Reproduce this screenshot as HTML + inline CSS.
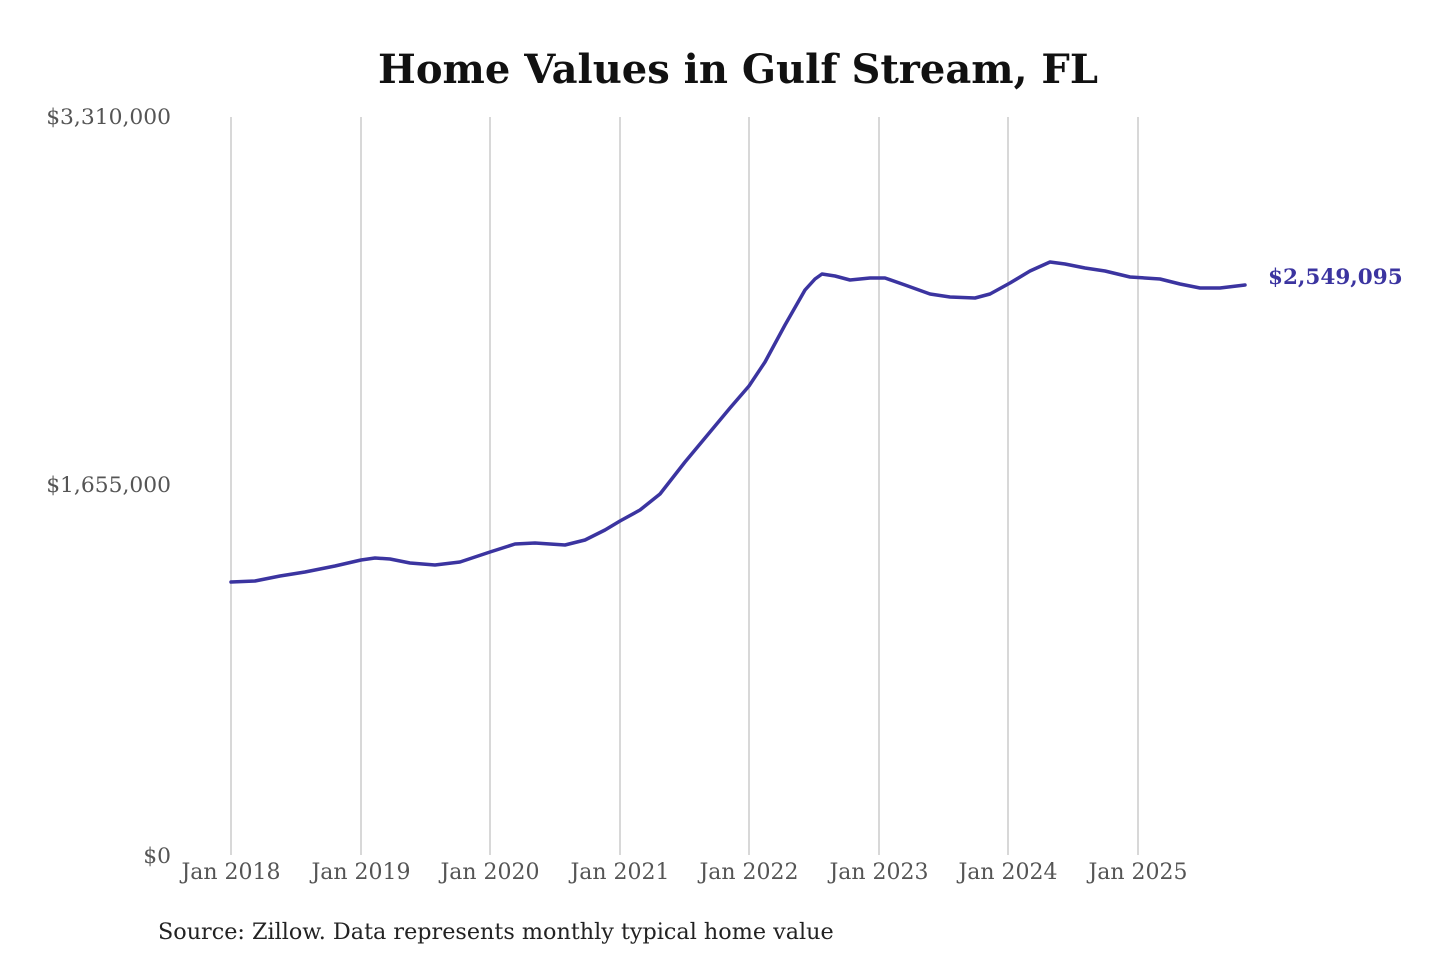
<!DOCTYPE html>
<html><head><meta charset="utf-8"><style>
html,body{margin:0;padding:0;background:#fff;}
svg{display:block}
</style></head><body>
<svg width="1440" height="960" xmlns="http://www.w3.org/2000/svg" font-family="'DejaVu Serif','Liberation Serif',serif">
<rect width="1440" height="960" fill="#fff"/>
<text x="738" y="83" text-anchor="middle" font-size="40" font-weight="bold" fill="#111">Home Values in Gulf Stream, FL</text>
<g stroke="#c4c4c4" stroke-width="1.3">
<line x1="231" y1="117" x2="231" y2="855"/>
<line x1="361" y1="117" x2="361" y2="855"/>
<line x1="490" y1="117" x2="490" y2="855"/>
<line x1="620" y1="117" x2="620" y2="855"/>
<line x1="749" y1="117" x2="749" y2="855"/>
<line x1="879" y1="117" x2="879" y2="855"/>
<line x1="1008" y1="117" x2="1008" y2="855"/>
<line x1="1138" y1="117" x2="1138" y2="855"/>
</g>
<g font-size="21.8" fill="#555" text-anchor="end">
<text x="171" y="124">$3,310,000</text>
<text x="171" y="492">$1,655,000</text>
<text x="171" y="863">$0</text>
</g>
<g font-size="22" fill="#555" text-anchor="middle">
<text x="231" y="879">Jan 2018</text>
<text x="361" y="879">Jan 2019</text>
<text x="490" y="879">Jan 2020</text>
<text x="620" y="879">Jan 2021</text>
<text x="749" y="879">Jan 2022</text>
<text x="879" y="879">Jan 2023</text>
<text x="1008" y="879">Jan 2024</text>
<text x="1138" y="879">Jan 2025</text>
</g>
<polyline fill="none" stroke="#3b34a0" stroke-width="3.5" stroke-linejoin="round" stroke-linecap="round" points="231,582 255,581 280,576 305,572 335,566 361,560 375,558 390,559 410,563 435,565 460,562 490,552 515,544 535,543 565,545 585,540 605,530 620,521 640,510 660,494 685,462 710,432 730,408 749,386 765,362 785,325 805,290 815,279 822,274 835,276 850,280 870,278 885,278 905,285 930,294 950,297 975,298 990,294 1010,283 1030,271 1050,262 1065,264 1085,268 1105,271 1130,277 1160,279 1180,284 1200,288 1220,288 1245,285"/>
<text x="1268" y="284" font-size="21.5" font-weight="bold" fill="#3b34a0">$2,549,095</text>
<text x="158" y="939" font-size="22.3" fill="#222">Source: Zillow. Data represents monthly typical home value</text>
</svg>
</body></html>
